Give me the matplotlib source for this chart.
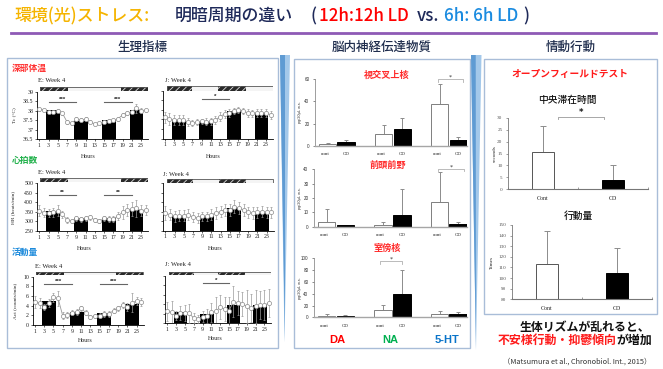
import matplotlib
matplotlib.use('Agg')
import matplotlib.pyplot as plt
from matplotlib.patches import Rectangle, Polygon
import numpy as np

# ---------------- data ----------------
hours = list(range(1, 25))
hour_ticks = list(range(1, 24, 2))
bar_hours = [4, 10, 16, 22]
dark_E = [(1.2, 7.2), (18.6, 24.4)]   # 12h:12h LD, dark phases
dark_J = [(1.4, 7.0), (12.6, 18.6)]   # 6h:6h LD, dark phases
span_E = (1.2, 24.4)
span_J = (1.4, 24.4)

tc_E = [38.08, 38.03, 37.95, 37.95, 38.0, 37.86, 37.4, 37.33, 37.54, 37.5, 37.54, 37.4,
        37.3, 37.33, 37.4, 37.47, 37.5, 37.57, 37.77, 37.86, 37.95, 38.12, 38.0, 38.03]
tc_E_err = [0.08, 0.06, 0.05, 0.05, 0.07, 0.08, 0.1, 0.08, 0.1, 0.12, 0.1, 0.08,
            0.06, 0.06, 0.06, 0.08, 0.08, 0.1, 0.1, 0.1, 0.1, 0.25, 0.12, 0.08]
tc_E_bars = [38.02, 37.47, 37.5, 38.02]
tc_J = [37.6, 37.51, 37.46, 37.46, 37.46, 37.37, 37.3, 37.37, 37.39, 37.37, 37.39, 37.46,
        37.64, 37.78, 37.83, 37.95, 37.99, 37.95, 37.83, 37.81, 37.83, 37.83, 37.83, 37.74]
tc_J_err = [0.3, 0.3, 0.28, 0.28, 0.25, 0.2, 0.15, 0.15, 0.15, 0.18, 0.2, 0.2,
            0.25, 0.2, 0.2, 0.15, 0.15, 0.15, 0.2, 0.2, 0.2, 0.2, 0.2, 0.2]
tc_J_bars = [37.46, 37.38, 37.92, 37.81]

hr_E = [356, 346, 343, 348, 357, 337, 308, 302, 316, 311, 316, 322,
        308, 302, 316, 311, 313, 329, 348, 360, 365, 369, 357, 360]
hr_E_err = [30, 25, 20, 25, 30, 20, 15, 12, 15, 12, 12, 12,
            12, 12, 15, 15, 15, 20, 35, 30, 35, 45, 30, 25]
hr_E_bars = [355, 318, 318, 362]
hr_J = [343, 334, 325, 329, 329, 334, 322, 317, 325, 325, 334, 343,
        351, 360, 360, 377, 369, 360, 346, 343, 346, 351, 346, 346]
hr_J_err = [35, 30, 30, 30, 30, 30, 25, 25, 25, 25, 28, 30,
            30, 30, 30, 35, 30, 30, 30, 30, 30, 30, 30, 30]
hr_J_bars = [325, 330, 370, 345]

act_E = [4.8, 4.5, 3.8, 4.6, 5.7, 5.5, 1.9, 2.1, 2.55, 2.76, 3.45, 2.55,
         1.6, 1.9, 1.9, 2.3, 2.3, 3.0, 3.45, 4.1, 3.8, 4.6, 5.0, 4.8]
act_E_err = [1.2, 1.0, 0.6, 0.8, 1.0, 1.6, 0.7, 0.6, 0.5, 0.6, 0.5, 0.5,
             0.4, 0.4, 0.5, 0.6, 0.6, 0.6, 0.5, 0.6, 0.8, 2.0, 0.9, 0.8]
act_E_bars = [5.0, 2.6, 2.4, 4.4]
act_J = [2.5, 2.3, 1.6, 2.1, 2.1, 2.1, 1.1, 0.9, 1.4, 1.6, 2.3, 2.5,
         3.4, 3.0, 2.7, 4.6, 4.3, 4.1, 3.6, 3.2, 3.6, 3.9, 3.8, 4.3]
act_J_err = [2.0, 2.5, 1.0, 1.5, 1.7, 2.0, 1.0, 0.8, 1.2, 1.5, 2.0, 3.0,
             2.5, 2.5, 2.8, 3.2, 2.5, 2.5, 3.5, 3.0, 3.5, 3.0, 3.2, 3.0]
act_J_bars = [2.3, 2.0, 3.9, 3.8]

nt_labels = ['DA', 'NA', '5-HT']
scn_cont = [1.5, 11, 38]
scn_cont_err = [0.8, 8, 18]
scn_cd = [3, 15, 5]
scn_cd_err = [2.5, 10, 3]
pfc_cont = [3.5, 1.5, 17.5]
pfc_cont_err = [8.5, 2, 20.5]
pfc_cd = [1, 8.5, 2]
pfc_cd_err = [0.5, 18, 1.5]
pvn_cont = [2.5, 13, 6]
pvn_cont_err = [2.5, 8, 5]
pvn_cd = [3, 40, 6]
pvn_cd_err = [1, 40, 3]

of_groups = ['Cont', 'CD']
center_time = [15.7, 3.7]
center_time_err = [11.0, 6.6]
activity = [113, 105]
activity_err = [31, 23]

# ---------------- figure helpers ----------------
W, H = 663, 369
fig = plt.figure(figsize=(W / 100, H / 100), dpi=100)
fig.patch.set_facecolor('white')
plt.rcParams['hatch.linewidth'] = 0.6
plt.rcParams['axes.linewidth'] = 0.6
R = fig.canvas.get_renderer()

JP = ['Noto Sans CJK JP', 'DejaVu Sans']
SERIF = ['Liberation Serif', 'DejaVu Serif']
SANS = ['Liberation Sans', 'DejaVu Sans']


def fx(x):
    return x / W


def fy(y):
    return 1 - y / H


def add_ax(x0, y0, x1, y1):
    return fig.add_axes([x0 / W, 1 - y1 / H, (x1 - x0) / W, (y1 - y0) / H])


def ptext(x, y, s, **kw):
    kw.setdefault('ha', 'center')
    kw.setdefault('va', 'center')
    return fig.text(fx(x), fy(y), s, **kw)


def seq_text(parts, y, fontsize, center, weight='normal', family=JP):
    ts = [fig.text(0, fy(y), s, color=c, fontsize=fontsize, fontweight=weight,
                   family=family, ha='left', va='center') for s, c in parts]
    ws = [t.get_window_extent(renderer=R).width for t in ts]
    x0 = center - sum(ws) / 2
    for t, w in zip(ts, ws):
        t.set_x(fx(x0))
        x0 += w


def frame(x0, y0, x1, y1, color='#a9bdd8', lw=1.0):
    fig.add_artist(Rectangle((fx(x0), fy(y1)), (x1 - x0) / W, (y1 - y0) / H,
                             transform=fig.transFigure, fill=False, ec=color, lw=lw))


def arrow_tri(x0, x1, xp, ytop, ybot):
    fig.add_artist(Polygon([(fx(x0), fy(ytop)), (fx(x1), fy(ytop)), (fx(xp), fy(ybot))],
                           closed=True, transform=fig.transFigure, fc='#a3c8ea', ec='none'))
    xm = x0 + (x1 - x0) * 0.45
    fig.add_artist(Polygon([(fx(x0), fy(ytop)), (fx(xm), fy(ytop)), (fx(xp), fy(ybot))],
                           closed=True, transform=fig.transFigure, fc='#5f9bd3', ec='none'))


# ---------------- title & headers ----------------
title_parts = [("環境(光)ストレス:", 14, '#f5b400'),
               ("明暗周期の違い", 175, '#1f2a5a'),
               ("(", 311, '#1f2a5a'),
               ("12h:12h LD", 319, '#ff0000'),
               ("vs.", 417, '#1f2a5a'),
               ("6h: 6h LD", 444, '#1a8be0'),
               (")", 523, '#1f2a5a')]
for s, x, c in title_parts:
    ptext(x, 16, s, ha='left', color=c, fontsize=12.2, family=JP, fontweight='medium')

fig.add_artist(plt.Line2D([fx(10.5), fx(655.5)], [fy(33.3), fy(33.3)],
                          transform=fig.transFigure, color='#8e5ab5', lw=2.0))

for s, x in [("生理指標", 142), ("脳内神経伝達物質", 382), ("情動行動", 571)]:
    ptext(x, 47, s, color='#1f2d4d', fontsize=9, family=JP, fontweight='medium')

frame(7, 58, 278, 348)
frame(294, 59, 470, 348)
frame(484, 59, 657, 314)
arrow_tri(280, 290, 284.5, 55, 342)
arrow_tri(471, 481.5, 476, 55, 350)

# ---------------- left panel ----------------
for s, y, c in [("深部体温", 68, '#ff3333'), ("心拍数", 160, '#22b14c'), ("活動量", 252.7, '#1c8adb')]:
    ptext(12, y, s, ha='left', color=c, fontsize=6.3, family=JP, fontweight='bold')


def hatch_bar(rect, span, dark):
    hx = add_ax(*rect)
    hx.set_xlim(0.5, 24.5)
    hx.set_ylim(0, 1)
    hx.axis('off')
    hx.add_patch(Rectangle((span[0], 0), span[1] - span[0], 1, fc='#f4f4f4', ec='none'))
    for a, b in dark:
        hx.add_patch(Rectangle((a, 0), b - a, 1, fc='#2a2a2a', ec='#dddddd', lw=0, hatch='/////'))
    hx.add_patch(Rectangle((span[0], 0), span[1] - span[0], 1, fill=False, ec='#555555', lw=0.6))


def left_chart(rect, vals, errs, bars, ylim, yticks, ytl, title, tpos, hb_rect, span, dark,
               sigs, hours_pos, ylabel=None, ylabel_x=None):
    ax = add_ax(*rect)
    ax.bar(bar_hours, [b - ylim[0] for b in bars], bottom=ylim[0], width=3,
           color='black', zorder=1)
    ax.errorbar(hours, vals, yerr=errs, fmt='-o', color='#9a9a9a', ms=3.0, mfc='white',
                mec='#8a8a8a', mew=0.5, lw=0.6, elinewidth=0.5, capsize=0.8, zorder=3)
    ax.set_xlim(0.5, 24.5)
    ax.set_ylim(*ylim)
    ax.set_xticks(hour_ticks)
    ax.set_xticklabels([str(h) for h in hour_ticks], family=SERIF, fontsize=4.2)
    ax.set_yticks(yticks)
    if ytl is not None:
        ax.set_yticklabels(ytl, family=SERIF, fontsize=4.2)
    else:
        ax.tick_params(labelleft=False)
    ax.tick_params(length=1.5, width=0.5, pad=1.2, colors='#222222')
    for sp in ['top', 'right']:
        ax.spines[sp].set_visible(False)
    for x0, x1, y, st in sigs:
        ax.plot([x0, x1], [y, y], color='#666666', lw=0.8, zorder=4)
        ax.text((x0 + x1) / 2, y, st, ha='center', va='bottom', fontsize=4.5,
                family=SANS, color='#222222', fontweight='bold')
    ptext(tpos[0], tpos[1], title, ha='left', family=SERIF, fontsize=4.8, color='#222222')
    ptext(hours_pos[0], hours_pos[1], 'Hours', family=SERIF, fontsize=4.3, color='#222222')
    if ylabel:
        cy = (rect[1] + rect[3]) / 2
        ptext(ylabel_x, cy, ylabel, rotation=90, family=SERIF, fontsize=3.9, color='#222222')
    hatch_bar(hb_rect, span, dark)
    return ax


tc_ticks = [36.5, 37, 37.5, 38, 38.5, 39]
left_chart((37, 91.7, 148, 139), tc_E, tc_E_err, tc_E_bars, (36.5, 39), tc_ticks,
           ['36.5', '37', '37.5', '38', '38.5', '39'], 'E: Week 4', (38, 80),
           (37, 86.5, 148, 90.7), span_E, dark_E,
           [(3, 9, 38.45, '***'), (15, 21, 38.45, '***')], (88, 156), 'Tc (°C)', 14)
left_chart((162.5, 90.5, 273, 138.5), tc_J, tc_J_err, tc_J_bars, (36.5, 39), tc_ticks,
           None, 'J: Week 4', (165, 80.5), (162.5, 86, 273, 90.7), span_J, dark_J,
           [(9, 15, 38.55, '*')], (213, 156))

hr_ticks = [250, 300, 350, 400, 450, 500]
left_chart((37, 183.3, 148, 231), hr_E, hr_E_err, hr_E_bars, (250, 500), hr_ticks,
           [str(t) for t in hr_ticks], 'E: Week 4', (38, 173),
           (37, 178.3, 148, 182.3), span_E, dark_E,
           [(3, 9, 440, '**'), (15, 21, 440, '**')], (84, 248), 'HR (beats/min)', 13)
left_chart((163, 183.3, 273.5, 230.7), hr_J, hr_J_err, hr_J_bars, (250, 500), hr_ticks,
           None, 'J: Week 4', (163, 174), (163, 179, 273.5, 182.7), span_J, dark_J,
           [], (215, 248))

act_ticks = [0, 2, 4, 6, 8, 10]
left_chart((32.7, 276.7, 143.6, 325), act_E, act_E_err, act_E_bars, (0, 10), act_ticks,
           [str(t) for t in act_ticks], 'E: Week 4', (35, 266),
           (32.7, 271.7, 143.6, 275), span_E, dark_E,
           [(3, 9, 8.5, '***'), (15, 21, 8.5, '***')], (85, 340), 'Act (counts/min)', 15)
left_chart((165, 276, 271, 323.3), act_J, act_J_err, act_J_bars, (0, 10), act_ticks,
           None, 'J: Week 4', (165, 265), (165, 271.7, 271, 275), span_J, dark_J,
           [(9, 15, 8.6, '*')], (215, 339))

# ---------------- middle panel ----------------
def nt_chart(rect, cont, cont_err, cd, cd_err, ylim, yticks, title, tpos, sig):
    ax = add_ax(*rect)
    x = np.arange(len(nt_labels))
    off, bw = 0.165, 0.31
    ax.bar(x - off, cont, width=bw, color='white', edgecolor='#7f7f7f', lw=0.7, zorder=2)
    ax.bar(x + off, cd, width=bw, color='black', edgecolor='black', lw=0.7, zorder=2)
    ax.errorbar(x - off, cont, yerr=[np.zeros(len(x)), cont_err], fmt='none',
                ecolor='#8c8c8c', elinewidth=0.7, capsize=1.6, capthick=0.7, zorder=1)
    ax.errorbar(x + off, cd, yerr=[np.zeros(len(x)), cd_err], fmt='none',
                ecolor='#8c8c8c', elinewidth=0.7, capsize=1.6, capthick=0.7, zorder=1)
    ax.set_xlim(-0.39, 2.32)
    ax.set_ylim(*ylim)
    ticks = []
    labels = []
    for g in x:
        ticks += [g - off - 0.05, g + off]
        labels += ['cont', 'CD']
    ax.set_xticks(ticks)
    ax.set_xticklabels(labels, family=SERIF, fontsize=3.6)
    ax.set_yticks(yticks)
    ax.set_yticklabels([str(t) for t in yticks], family=SANS, fontsize=3.3)
    ax.tick_params(axis='x', length=0, pad=4.5, colors='#222222')
    ax.tick_params(axis='y', length=1.5, width=0.4, pad=2.5, colors='#333333')
    for sp in ['top', 'right']:
        ax.spines[sp].set_visible(False)
    ax.spines['left'].set_color('#777777')
    ax.spines['left'].set_linewidth(0.5)
    ax.spines['bottom'].set_color('#a6a6a6')
    ax.spines['bottom'].set_linewidth(1.0)
    x0, x1, y, d = sig
    ax.plot([x0, x0, x1, x1], [y - d, y, y, y - d], color='#b0b0b0', lw=0.6, clip_on=False)
    ax.text((x0 + x1) / 2, y, '*', ha='center', va='bottom', fontsize=4.5, color='#333333',
            clip_on=False)
    ptext(tpos[0], tpos[1], title, color='#ff2a2a', fontsize=6.6, family=JP, fontweight='bold')
    cy = (rect[1] + rect[3]) / 2
    ptext(299.5, cy, 'pg/20μL w.s.', rotation=90, family=SANS, fontsize=2.8, color='#333333')
    return ax


nt_chart((315, 79.3, 467, 145.7), scn_cont, scn_cont_err, scn_cd, scn_cd_err, (0, 60),
         [0, 20, 40, 60], '視交叉上核', (387, 75), (1.80, 2.25, 60, 2.0))
nt_chart((314, 169.3, 467, 226.7), pfc_cont, pfc_cont_err, pfc_cd, pfc_cd_err, (0, 40),
         [0, 10, 20, 30, 40], '前頭前野', (388, 165), (1.80, 2.27, 40, 1.5))
nt_chart((314, 258.3, 467, 317.3), pvn_cont, pvn_cont_err, pvn_cd, pvn_cd_err, (0, 100),
         [0, 20, 40, 60, 80, 100], '室傍核', (387, 248), (0.78, 1.17, 95, 4.0))

for s, x, c in [('DA', 337.7, '#ff0000'), ('NA', 390, '#00b050'), ('5-HT', 446.7, '#0a74c9')]:
    ptext(x, 340, s, color=c, fontsize=8, family=SANS, fontweight='bold')

# ---------------- right panel ----------------
ptext(570, 74.3, 'オープンフィールドテスト', color='#ff1a1a', fontsize=7, family=JP,
      fontweight='bold')
ptext(567, 100, '中央滞在時間', color='#111111', fontsize=7, family=JP, fontweight='medium')
ptext(578, 216, '行動量', color='#111111', fontsize=7, family=JP, fontweight='medium')


def of_chart(rect, vals, errs, ylim, yticks, ylabel, ylabel_x, sig=None):
    ax = add_ax(*rect)
    x = np.arange(len(of_groups))
    bw = 0.32
    ax.bar(x[0], vals[0], width=bw, color='white', edgecolor='#555555', lw=0.7, zorder=2)
    ax.bar(x[1], vals[1], width=bw, color='black', edgecolor='black', lw=0.7, zorder=2)
    ax.errorbar(x, vals, yerr=[np.zeros(len(x)), errs], fmt='none', ecolor='#8c8c8c',
                elinewidth=0.7, capsize=2.0, capthick=0.7, zorder=1)
    ax.set_xlim(-0.5, 1.5)
    ax.set_ylim(*ylim)
    ax.set_xticks([-0.5, 0.5, 1.5])
    ax.set_xticklabels([])
    ax.tick_params(axis='x', direction='in', length=1.5, width=0.5, colors='#777777')
    for g, lab in zip(x, of_groups):
        ax.text(g, -0.09, lab, transform=ax.get_xaxis_transform(), ha='center', va='top',
                family=SERIF, fontsize=4.2, color='#222222')
    ax.set_yticks(yticks)
    ax.set_yticklabels([str(t) for t in yticks], family=SERIF, fontsize=3.7, color='#4a3f66')
    ax.tick_params(axis='y', length=1.5, width=0.4, pad=2.5, colors='#555555')
    for sp in ['top', 'right']:
        ax.spines[sp].set_visible(False)
    ax.spines['left'].set_color('#777777')
    ax.spines['bottom'].set_color('#777777')
    ax.spines['bottom'].set_linewidth(0.8)
    if sig:
        x0, x1, y, d = sig
        ax.plot([x0, x0, x1, x1], [y - d, y, y, y - d], color='#999999', lw=0.6, clip_on=False)
        ax.text((x0 + x1) / 2, y + 0.1, '*', ha='center', va='bottom', fontsize=6,
                color='#111111', fontweight='bold', clip_on=False)
    cy = (rect[1] + rect[3]) / 2
    ptext(ylabel_x, cy, ylabel, rotation=90, family=SERIF, fontsize=3.8, color='#222222')
    return ax


of_chart((508, 117.7, 648, 189.3), center_time, center_time_err, (0, 30),
         [0, 5, 10, 15, 20, 25, 30], 'seconds', 495, (0.21, 0.87, 30.2, 0.8))
of_chart((512, 225, 652, 299.3), activity, activity_err, (80, 150),
         list(range(80, 151, 10)), 'Times', 491.5)

seq_text([('生体リズムが乱れると、', '#111111')], 327.3, 8.6, 585, weight='bold')
seq_text([('不安様行動・抑鬱傾向', '#ff1a1a'), ('が増加', '#111111')], 340.3, 8.6, 575,
         weight='bold')
ptext(577, 361.7, '（Matsumura et al., Chronobiol. Int., 2015）', color='#333333',
      fontsize=5.3, family=JP)

fig.savefig('out.png', dpi=100, facecolor='white')
